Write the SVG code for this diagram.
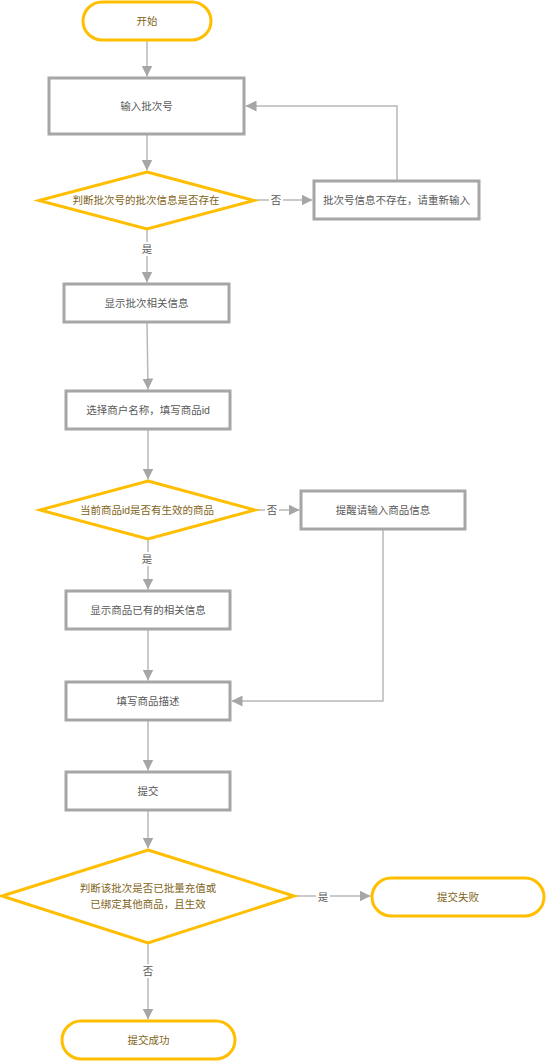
<svg xmlns="http://www.w3.org/2000/svg" width="546" height="1061" viewBox="0 0 546 1061">
<style>
.box{fill:#fff;stroke:#A6A6A6;stroke-width:3}
.yel{fill:#fff;stroke:#FFBE00;stroke-width:3}
.t{font-family:"Liberation Sans","Noto Sans CJK SC",sans-serif;font-size:10.5px;text-anchor:middle;dominant-baseline:central}
.tg{fill:#595959}
.ty{fill:#7F6420}
.c{fill:none;stroke:#B8B8B8;stroke-width:1.5}
.lb{fill:#fff}
</style>
<defs>
<marker id="ah" markerUnits="userSpaceOnUse" markerWidth="11" markerHeight="11" refX="10" refY="5" orient="auto" viewBox="0 0 10 10">
<path d="M0,0 L10,5 L0,10 z" fill="#A6A6A6"/>
</marker>
</defs>
<rect width="546" height="1061" fill="#fff"/>
<g id="connectors">
<path class="c" d="M147,41 V76.5" marker-end="url(#ah)"/>
<path class="c" d="M147,134 V170.5" marker-end="url(#ah)"/>
<path class="c" d="M254,200 H312.5" marker-end="url(#ah)"/>
<path class="c" d="M397,181 V106 H245.5" marker-end="url(#ah)"/>
<path class="c" d="M147,229 V282.5" marker-end="url(#ah)"/>
<path class="c" d="M147,322 L148,389.5" marker-end="url(#ah)"/>
<path class="c" d="M148,429 V479.5" marker-end="url(#ah)"/>
<path class="c" d="M255,510 H299.5" marker-end="url(#ah)"/>
<path class="c" d="M148,539 V589.5" marker-end="url(#ah)"/>
<path class="c" d="M383,529 V701 H231.5" marker-end="url(#ah)"/>
<path class="c" d="M148,629 V680.5" marker-end="url(#ah)"/>
<path class="c" d="M148,720 V770.5" marker-end="url(#ah)"/>
<path class="c" d="M148,810 V848.5" marker-end="url(#ah)"/>
<path class="c" d="M294,896 H370.5" marker-end="url(#ah)"/>
<path class="c" d="M148,943 V1019.5" marker-end="url(#ah)"/>
<rect class="lb" x="269" y="193" width="14" height="14"/>
<text class="t tg" x="276" y="200">否</text>
<rect class="lb" x="140" y="242" width="14" height="14"/>
<text class="t tg" x="147" y="249">是</text>
<rect class="lb" x="265" y="503" width="14" height="14"/>
<text class="t tg" x="272" y="510">否</text>
<rect class="lb" x="140" y="552" width="14" height="14"/>
<text class="t tg" x="147" y="559">是</text>
<rect class="lb" x="316" y="890" width="14" height="14"/>
<text class="t tg" x="323" y="897">是</text>
<rect class="lb" x="141" y="964" width="14" height="14"/>
<text class="t tg" x="148" y="971">否</text>
</g>
<g id="start">
<rect class="yel" x="83" y="2" width="128" height="38" rx="19"/>
<text class="t ty" x="147" y="21">开始</text>
</g>
<g id="input-batch">
<rect class="box" x="49" y="78" width="195" height="56"/>
<text class="t tg" x="146.5" y="106">输入批次号</text>
</g>
<g id="check-batch">
<polygon class="yel" points="147,172 254,200.5 147,229 39,200.5"/>
<text class="t ty" x="146" y="200">判断批次号的批次信息是否存在</text>
</g>
<g id="batch-missing">
<rect class="box" x="314" y="181" width="165" height="38"/>
<text class="t tg" x="396.5" y="200">批次号信息不存在，请重新输入</text>
</g>
<g id="show-batch">
<rect class="box" x="64" y="284" width="165" height="38"/>
<text class="t tg" x="146.5" y="303">显示批次相关信息</text>
</g>
<g id="select-merchant">
<rect class="box" x="66" y="391" width="164" height="38"/>
<text class="t tg" x="148" y="410">选择商户名称，填写商品id</text>
</g>
<g id="check-goods">
<polygon class="yel" points="148,481 255,510 148,539 40,510"/>
<text class="t ty" x="147" y="510">当前商品id是否有生效的商品</text>
</g>
<g id="remind-goods">
<rect class="box" x="301" y="491" width="164" height="38"/>
<text class="t tg" x="383" y="510">提醒请输入商品信息</text>
</g>
<g id="show-goods">
<rect class="box" x="66" y="591" width="164" height="38"/>
<text class="t tg" x="148" y="610">显示商品已有的相关信息</text>
</g>
<g id="fill-desc">
<rect class="box" x="66" y="682" width="164" height="38"/>
<text class="t tg" x="148" y="701">填写商品描述</text>
</g>
<g id="submit">
<rect class="box" x="66" y="772" width="164" height="38"/>
<text class="t tg" x="148" y="791">提交</text>
</g>
<g id="check-bound">
<polygon class="yel" points="148,850 294,896 148,943 2,896"/>
<text class="t ty" x="148" y="888">判断该批次是否已批量充值或</text>
<text class="t ty" x="148" y="904">已绑定其他商品，且生效</text>
</g>
<g id="submit-fail">
<rect class="yel" x="372" y="878" width="172" height="38" rx="19"/>
<text class="t ty" x="458" y="897">提交失败</text>
</g>
<g id="submit-ok">
<rect class="yel" x="62" y="1021" width="173" height="38" rx="19"/>
<text class="t ty" x="148.5" y="1040">提交成功</text>
</g>
</svg>
